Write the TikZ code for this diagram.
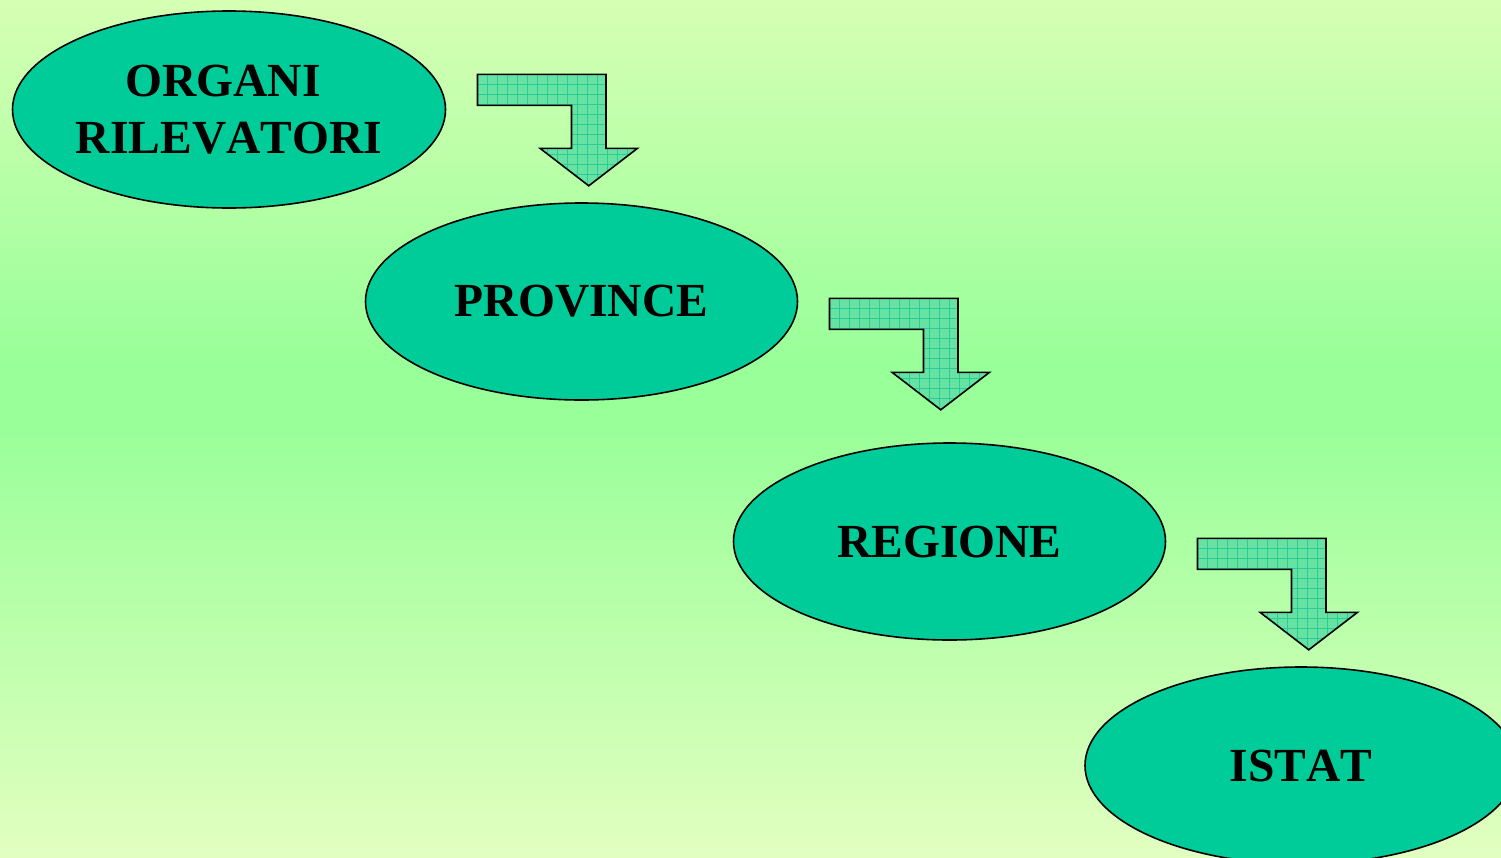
\documentclass[tikz,border=0pt]{standalone}
\usepackage{fontspec}
\setmainfont[Kerning=Off]{Liberation Serif}
\usetikzlibrary{shapes.geometric}
\definecolor{bgtop}{RGB}{214,255,180}
\definecolor{bgmid}{RGB}{153,255,153}
\definecolor{bgbot}{RGB}{226,255,192}
\definecolor{ellfill}{RGB}{0,204,153}
\definecolor{arrfill}{RGB}{104,226,162}
\definecolor{arrgrid}{RGB}{40,206,150}
\pgfdeclareverticalshading{bgshade}{100bp}{color(0bp)=(bgbot); color(25bp)=(bgbot); color(50bp)=(bgmid); color(54bp)=(bgmid); color(75bp)=(bgtop); color(100bp)=(bgtop)}
\tikzset{
  stage/.style={ellipse, draw=black, line width=1.6pt, fill=ellfill,
    minimum width=432pt, minimum height=197pt, inner sep=0pt, align=center,
    font=\fontsize{47.5}{57}\selectfont\bfseries},
  bentarrow/.pic={
    \path[fill=arrfill] (0,0) -- (128.5,0) -- (128.5,74) -- (160,74) -- (111.25,111.5) -- (62.5,74) -- (94,74) -- (94,31) -- (0,31) -- cycle;
    \begin{scope}
      \clip (0,0) -- (128.5,0) -- (128.5,74) -- (160,74) -- (111.25,111.5) -- (62.5,74) -- (94,74) -- (94,31) -- (0,31) -- cycle;
      \draw[arrgrid, line width=0.8pt] (-5,-5) grid[step=10pt] (170,120);
    \end{scope}
    \draw[black, line width=1.6pt, line join=miter] (0,0) -- (128.5,0) -- (128.5,74) -- (160,74) -- (111.25,111.5) -- (62.5,74) -- (94,74) -- (94,31) -- (0,31) -- cycle;
  }
}
\begin{document}
\begin{tikzpicture}
\useasboundingbox (0pt,0pt) rectangle (1501pt,-857pt);
\shade[shading=bgshade] (0pt,0pt) rectangle (1501pt,-857pt);
\begin{scope}[x=1pt,y=-1pt]
\node[stage] (organi) at (229,109.5) {ORGANI\hspace*{0.25em}\\RILEVATORI};
\node[stage] (province) at (581.5,301.5) {PROVINCE};
\node[stage] (regione) at (949.5,541.5) {REGIONE};
\node[stage] (istat) at (1301,765.5) {ISTAT};
\pic at (477.5,74.3) {bentarrow};
\pic at (829.5,298.3) {bentarrow};
\pic at (1197.5,538.3) {bentarrow};
\end{scope}
\end{tikzpicture}
\end{document}
